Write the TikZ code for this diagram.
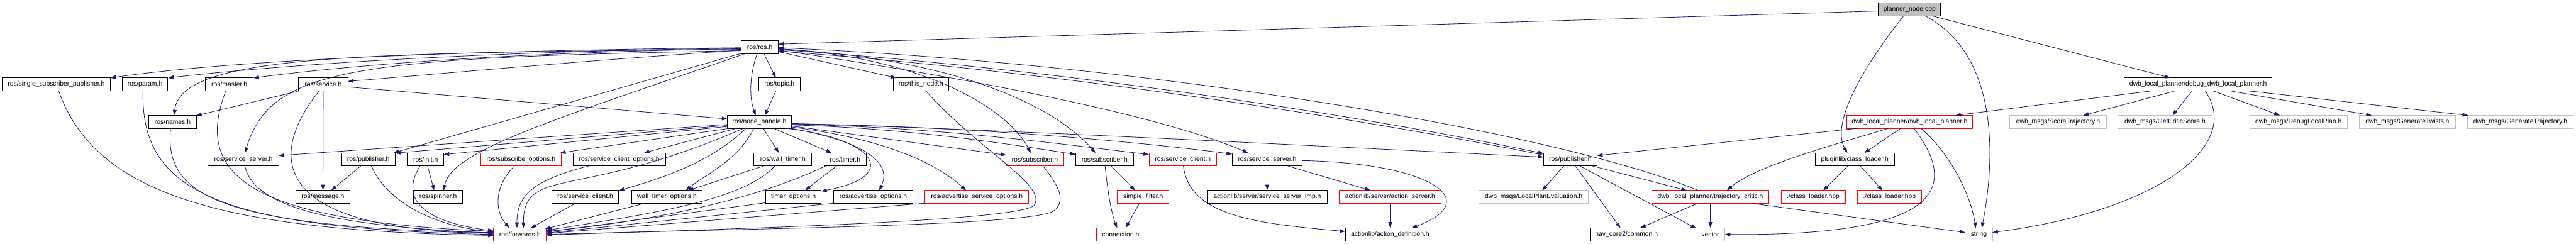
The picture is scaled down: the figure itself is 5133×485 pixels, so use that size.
\documentclass[tikz,border=0pt]{standalone}
\usepackage{fontspec}
\setmainfont{Liberation Sans}
\usetikzlibrary{arrows.meta}
\definecolor{edgec}{HTML}{191970}
\definecolor{grayb}{HTML}{BFBFBF}
\definecolor{redb}{HTML}{FF0000}
\begin{document}
\begin{tikzpicture}[x=1pt,y=-1pt,
  bk/.style={draw=black,line width=1.2pt,fill=white,minimum height=26pt,inner sep=0pt,inner xsep=4pt,font=\fontsize{13pt}{15pt}\selectfont},
  rd/.style={bk,draw=redb},
  gy/.style={bk,draw=grayb},
  e/.style={draw=edgec,line width=1.05pt,-{Triangle[length=11pt,width=7.5pt]}}]
\fill[white] (0,0) rectangle (5133,485);
\useasboundingbox (0,0) rectangle (5133,485);
% row 0-1
\node[bk,minimum width=124pt,fill=grayb] (pn) at (3805,18.7) {planner\_node.cpp};
\node[bk,minimum width=74pt] (ros) at (1514,93.5) {ros/ros.h};
% row 2
\node[bk,minimum width=215pt] (ssp) at (112,168.2) {ros/single\_subscriber\_publisher.h};
\node[bk,minimum width=91pt] (param) at (289,168.2) {ros/param.h};
\node[bk,minimum width=95pt] (master) at (457,168.2) {ros/master.h};
\node[bk,minimum width=98pt] (svc) at (644,168.2) {ros/service.h};
\node[bk,minimum width=83pt] (topic) at (1553,168.2) {ros/topic.h};
\node[bk,minimum width=110pt] (thisn) at (1835,168.2) {ros/this\_node.h};
\node[bk,minimum width=294pt] (dbg) at (4380,168.2) {dwb\_local\_planner/debug\_dwb\_local\_planner.h};
% row 3
\node[bk,minimum width=95pt] (names) at (344,243) {ros/names.h};
\node[bk,minimum width=127pt] (nh) at (1513,243) {ros/node\_handle.h};
\node[rd,minimum width=250pt] (dlp) at (3805,243) {dwb\_local\_planner/dwb\_local\_planner.h};
\node[gy,minimum width=192pt] (score) at (4101,243) {dwb\_msgs/ScoreTrajectory.h};
\node[gy,minimum width=187pt] (gcs) at (4314,243) {dwb\_msgs/GetCriticScore.h};
\node[gy,minimum width=194pt] (dlplan) at (4580,243) {dwb\_msgs/DebugLocalPlan.h};
\node[gy,minimum width=192pt] (gtw) at (4797,243) {dwb\_msgs/GenerateTwists.h};
\node[gy,minimum width=211pt] (gtr) at (5022,243) {dwb\_msgs/GenerateTrajectory.h};
% row 4
\node[bk,minimum width=141pt] (ssL) at (485,317.7) {ros/service\_server.h};
\node[bk,minimum width=107pt] (pubL) at (734,317.7) {ros/publisher.h};
\node[bk,minimum width=72pt] (init) at (848,317.7) {ros/init.h};
\node[rd,minimum width=160pt] (subo) at (1038,317.7) {ros/subscribe\_options.h};
\node[bk,minimum width=184pt] (sco) at (1234,317.7) {ros/service\_client\_options.h};
\node[bk,minimum width=115pt] (wt) at (1560,317.7) {ros/wall\_timer.h};
\node[bk,minimum width=84pt] (tm) at (1684,317.7) {ros/timer.h};
\node[rd,minimum width=115pt] (subR) at (2062,317.7) {ros/subscriber.h};
\node[bk,minimum width=115pt] (subB) at (2201,317.7) {ros/subscriber.h};
\node[rd,minimum width=135pt] (sclR) at (2357,317.7) {ros/service\_client.h};
\node[bk,minimum width=140pt] (ssR) at (2525,317.7) {ros/service\_server.h};
\node[bk,minimum width=107pt] (pubR) at (3129,317.7) {ros/publisher.h};
\node[bk,minimum width=158pt] (cl) at (3696,317.7) {pluginlib/class\_loader.h};
% row 5
\node[bk,minimum width=108pt] (msg) at (643.5,392.5) {ros/message.h};
\node[bk,minimum width=97pt] (spin) at (873,392.5) {ros/spinner.h};
\node[bk,minimum width=134pt] (sclL) at (1166,392.5) {ros/service\_client.h};
\node[bk,minimum width=141pt] (wto) at (1329,392.5) {wall\_timer\_options.h};
\node[bk,minimum width=111pt] (tmo) at (1581,392.5) {timer\_options.h};
\node[bk,minimum width=158pt] (advo) at (1740,392.5) {ros/advertise\_options.h};
\node[rd,minimum width=207pt] (advso) at (1946.5,392.5) {ros/advertise\_service\_options.h};
\node[rd,minimum width=103pt] (sf) at (2278,392.5) {simple\_filter.h};
\node[bk,minimum width=239pt] (ssimp) at (2525,392.5) {actionlib/server/service\_server\_imp.h};
\node[rd,minimum width=203pt] (acts) at (2770,392.5) {actionlib/server/action\_server.h};
\node[gy,minimum width=218pt] (lpe) at (3056,392.5) {dwb\_msgs/LocalPlanEvaluation.h};
\node[rd,minimum width=233pt] (tc) at (3408,392.5) {dwb\_local\_planner/trajectory\_critic.h};
\node[rd,minimum width=128pt] (clh1) at (3613,392.5) {./class\_loader.hpp};
\node[rd,minimum width=128pt] (clh2) at (3765,392.5) {./class\_loader.hpp};
% row 6
\node[rd,minimum width=105pt] (fwd) at (1036,467.2) {ros/forwards.h};
\node[rd,minimum width=96pt] (conn) at (2233,467.2) {connection.h};
\node[bk,minimum width=179pt] (adef) at (2770,467.2) {actionlib/action\_definition.h};
\node[bk,minimum width=146pt] (nav) at (3241,467.2) {nav\_core2/common.h};
\node[gy,minimum width=58pt] (vec) at (3408,467.2) {vector};
\node[gy,minimum width=54pt] (str) at (3943,467.2) {string};
% ---- edges from planner_node.cpp
\draw[e] ([shift={(-62,3.3)}]pn.center) -- ([shift={(37,-5.5)}]ros.center);
\draw[e] ([shift={(-12,13)}]pn.center) .. controls (3700,150) and (3650,250) .. ([shift={(-15,-13)}]cl.center);
\draw[e] ([shift={(31,13)}]pn.center) .. controls (3985,110) and (3975,320) .. ([shift={(6,-13)}]str.center);
\draw[e] ([shift={(45,13)}]pn.center) -- ([shift={(-55,-13)}]dbg.center);
% ---- ros/ros.h left
\draw[e] ([shift={(-37,1.5)}]ros.center) .. controls (1000,100) and (500,115) .. ([shift={(108,-13)}]ssp.center);
\draw[e] ([shift={(-37,2.5)}]ros.center) .. controls (1000,102) and (600,125) .. ([shift={(46,-13)}]param.center);
\draw[e] ([shift={(-37,3.5)}]ros.center) .. controls (1000,105) and (700,130) .. ([shift={(48,-13)}]master.center);
\draw[e] ([shift={(-37,6.5)}]ros.center) .. controls (1200,118) and (900,145) .. ([shift={(49,-6)}]svc.center);
\draw[e] ([shift={(-37,5)}]ros.center) .. controls (700,105) and (360,110) .. ([shift={(3,-13)}]names.center);
\draw[e] ([shift={(-37,7.5)}]ros.center) .. controls (700,115) and (540,135) .. ([shift={(3,-13)}]ssL.center);
\draw[e] ([shift={(-36,12.5)}]ros.center) -- ([shift={(50,-13)}]pubL.center);
\draw[e] ([shift={(-28,13)}]ros.center) .. controls (1100,240) and (900,300) .. ([shift={(11,-13)}]spin.center);
\draw[e] ([shift={(-5,13)}]ros.center) .. controls (1493,150) and (1493,195) .. ([shift={(-7,-13)}]nh.center);
\draw[e] ([shift={(8,13)}]ros.center) -- ([shift={(-7,-13)}]topic.center);
\draw[e] ([shift={(-7,13)}]topic.center) -- ([shift={(11,-13)}]nh.center);
% ---- ros/ros.h right
\draw[e] ([shift={(37,9.5)}]ros.center) -- ([shift={(-49,-13)}]thisn.center);
\draw[e] ([shift={(37,3.5)}]ros.center) .. controls (1850,115) and (2010,220) .. ([shift={(-8,-13)}]subR.center);
\draw[e] ([shift={(37,4.5)}]ros.center) .. controls (1900,115) and (2100,210) .. ([shift={(-18,-13)}]subB.center);
\draw[e] ([shift={(37,6.5)}]ros.center) .. controls (1900,150) and (2300,225) .. ([shift={(-38,-13)}]ssR.center);
\draw[e] ([shift={(37,5.5)}]ros.center) .. controls (2100,135) and (2700,228) .. ([shift={(-53,-11.7)}]pubR.center);
\draw[e] ([shift={(-53,-8.7)}]pubR.center) .. controls (2700,234) and (2100,142) .. ([shift={(37,8.5)}]ros.center);
\draw[e] ([shift={(-24,-13)}]tc.center) .. controls (3100,262) and (2300,128) .. ([shift={(37,1.5)}]ros.center);
% ---- ros/service.h
\draw[e] ([shift={(-48,13)}]svc.center) -- ([shift={(47,-12.5)}]names.center);
\draw[e] (svc.south) -- (msg.north);
\draw[e] ([shift={(49,5)}]svc.center) -- ([shift={(-63.5,-6)}]nh.center);
\draw[e] ([shift={(-8,13)}]svc.center) .. controls (540,300) and (520,460) .. ([shift={(-52.5,-4)}]fwd.center);
% ---- left nodes to forwards
\draw[e] ([shift={(5,13)}]ssp.center) .. controls (190,390) and (450,460) .. ([shift={(-52.5,2)}]fwd.center);
\draw[e] ([shift={(-4,13)}]param.center) .. controls (280,380) and (430,455) .. ([shift={(-52.5,0)}]fwd.center);
\draw[e] ([shift={(-4,13)}]names.center) .. controls (325,400) and (460,450) .. ([shift={(-52.5,-2)}]fwd.center);
\draw[e] ([shift={(-7,13)}]master.center) .. controls (380,360) and (520,440) .. ([shift={(-52.5,-6)}]fwd.center);
\draw[e] ([shift={(3,13)}]ssL.center) .. controls (505,410) and (650,450) .. ([shift={(-52.5,-3)}]fwd.center);
\draw[e] ([shift={(6,13)}]pubL.center) .. controls (770,400) and (860,450) .. ([shift={(-52.5,-5)}]fwd.center);
\draw[e] ([shift={(-11,13)}]init.center) .. controls (800,390) and (830,440) .. ([shift={(-52.5,-7)}]fwd.center);
\draw[e] ([shift={(-15,13)}]pubL.center) -- ([shift={(16.5,-13)}]msg.center);
\draw[e] ([shift={(4,13)}]init.center) -- ([shift={(-8,-13)}]spin.center);
% ---- node_handle left
\draw[e] ([shift={(-63.5,5)}]nh.center) -- ([shift={(70.5,-7.7)}]ssL.center);
\draw[e] ([shift={(-63.5,7)}]nh.center) -- ([shift={(53.5,-12.7)}]pubL.center);
\draw[e] ([shift={(-63.5,9)}]nh.center) -- ([shift={(36,-9.7)}]init.center);
\draw[e] ([shift={(-61,13)}]nh.center) -- ([shift={(78,-13)}]subo.center);
\draw[e] ([shift={(-46,13)}]nh.center) -- ([shift={(49,-13)}]sco.center);
\draw[e] ([shift={(-32,13)}]nh.center) .. controls (1150,400) and (1043,330) .. ([shift={(7,-13)}]fwd.center);
\draw[e] ([shift={(-27,13)}]nh.center) .. controls (1410,330) and (1300,360) .. ([shift={(67,-12.5)}]sclL.center);
\draw[e] ([shift={(-11,13)}]nh.center) .. controls (1470,320) and (1410,345) .. ([shift={(37,-13)}]wto.center);
% ---- node_handle down/right
\draw[e] ([shift={(8,13)}]nh.center) -- ([shift={(-8,-13)}]wt.center);
\draw[e] ([shift={(29,13)}]nh.center) -- ([shift={(-27,-13)}]tm.center);
\draw[e] ([shift={(55,13)}]nh.center) .. controls (1740,275) and (1800,350) .. ([shift={(55.5,-11.5)}]tmo.center);
\draw[e] ([shift={(59,12)}]nh.center) .. controls (1740,285) and (1775,330) .. ([shift={(12,-13)}]advo.center);
\draw[e] ([shift={(63,10)}]nh.center) .. controls (1750,275) and (1860,320) .. ([shift={(-21.5,-13)}]advso.center);
\draw[e] ([shift={(63.5,8)}]nh.center) -- ([shift={(-57,-8.7)}]subR.center);
\draw[e] ([shift={(63.5,6)}]nh.center) .. controls (1800,255) and (2000,285) .. ([shift={(-57.5,-9.7)}]subB.center);
\draw[e] ([shift={(63.5,5)}]nh.center) .. controls (1850,252) and (2100,285) .. ([shift={(-67.5,-9.7)}]sclR.center);
\draw[e] ([shift={(63.5,4)}]nh.center) .. controls (1900,250) and (2250,280) .. ([shift={(-70,-10.7)}]ssR.center);
\draw[e] ([shift={(63.5,3)}]nh.center) .. controls (2000,258) and (2600,290) .. ([shift={(-53.5,-4.7)}]pubR.center);
% ---- row 4/5 to forwards
\draw[e] ([shift={(-38,13)}]wt.center) -- ([shift={(42,-13)}]wto.center);
\draw[e] ([shift={(-17,13)}]tm.center) -- ([shift={(23,-13)}]tmo.center);
\draw[e] ([shift={(-13,13)}]subo.center) .. controls (985,370) and (985,420) .. ([shift={(-21,-13)}]fwd.center);
\draw[e] ([shift={(-61,13)}]sco.center) .. controls (1060,360) and (1030,390) .. ([shift={(-6,-13)}]fwd.center);
\draw[e] ([shift={(-20,13)}]sclL.center) -- ([shift={(22,-13)}]fwd.center);
\draw[e] ([shift={(-46,13)}]wto.center) -- ([shift={(50,-11)}]fwd.center);
\draw[e] ([shift={(-16,13)}]wt.center) .. controls (1480,400) and (1300,425) .. ([shift={(52.5,-8)}]fwd.center);
\draw[e] ([shift={(-39,13)}]tm.center) .. controls (1500,400) and (1300,440) .. ([shift={(52.5,-6)}]fwd.center);
\draw[e] ([shift={(-55,11.5)}]tmo.center) -- ([shift={(52.5,-5)}]fwd.center);
\draw[e] ([shift={(-79,12.5)}]advo.center) -- ([shift={(52.5,-3)}]fwd.center);
\draw[e] ([shift={(-103.5,12.5)}]advso.center) -- ([shift={(52.5,-2)}]fwd.center);
\draw[e] ([shift={(16,13)}]subR.center) .. controls (2110,370) and (2125,400) .. (2100,420) .. controls (2060,450) and (1500,455) .. ([shift={(52.5,0)}]fwd.center);
\draw[e] ([shift={(10,13)}]thisn.center) .. controls (1950,300) and (2090,370) .. (2060,410) .. controls (2020,440) and (1500,455) .. ([shift={(52.5,1)}]fwd.center);
% ---- subscriber / actionlib
\draw[e] ([shift={(13,13)}]subB.center) -- ([shift={(-16,-13)}]sf.center);
\draw[e] ([shift={(1,13)}]subB.center) .. controls (2208,390) and (2215,425) .. ([shift={(-7,-13)}]conn.center);
\draw[e] ([shift={(-8,13)}]sf.center) -- ([shift={(10,-13)}]conn.center);
\draw[e] (ssR.south) -- (ssimp.north);
\draw[e] ([shift={(41,13)}]ssR.center) -- ([shift={(-39,-13)}]acts.center);
\draw[e] ([shift={(70,2.3)}]ssR.center) .. controls (2850,325) and (2960,400) .. ([shift={(43,-13)}]adef.center);
\draw[e] (acts.south) -- (adef.north);
\draw[e] ([shift={(1,13)}]sclR.center) .. controls (2370,430) and (2500,445) .. ([shift={(-89.5,-6)}]adef.center);
% ---- dwb part
\draw[e] ([shift={(-13,13)}]pubR.center) -- ([shift={(17,-13)}]lpe.center);
\draw[e] ([shift={(10,13)}]pubR.center) -- ([shift={(-12,-13)}]nav.center);
\draw[e] ([shift={(19,13)}]pubR.center) -- ([shift={(-28,-12)}]vec.center);
\draw[e] ([shift={(44,13)}]pubR.center) -- ([shift={(-47,-13)}]tc.center);
\draw[e] ([shift={(-106,13)}]dlp.center) -- ([shift={(53.5,-7.7)}]pubR.center);
\draw[e] ([shift={(-43,13)}]dlp.center) .. controls (3650,290) and (3500,330) .. ([shift={(33,-13)}]tc.center);
\draw[e] ([shift={(-18,13)}]dlp.center) -- ([shift={(19,-13)}]cl.center);
\draw[e] ([shift={(9,13)}]dlp.center) .. controls (3900,370) and (3880,470) .. ([shift={(29,0)}]vec.center);
\draw[e] ([shift={(23,13)}]dlp.center) .. controls (3880,300) and (3925,380) .. ([shift={(-6,-13)}]str.center);
\draw[e] ([shift={(-14,13)}]cl.center) -- ([shift={(20,-13)}]clh1.center);
\draw[e] ([shift={(11,13)}]cl.center) -- ([shift={(-14,-13)}]clh2.center);
\draw[e] ([shift={(-26,13)}]tc.center) -- ([shift={(27,-13)}]nav.center);
\draw[e] (tc.south) -- (vec.north);
\draw[e] ([shift={(85,13)}]tc.center) -- ([shift={(-27,-4)}]str.center);
\draw[e] ([shift={(-93,13)}]dbg.center) -- ([shift={(91,-13)}]dlp.center);
\draw[e] ([shift={(-46,13)}]dbg.center) -- ([shift={(50,-13)}]score.center);
\draw[e] ([shift={(-12,13)}]dbg.center) -- ([shift={(15,-13)}]gcs.center);
\draw[e] ([shift={(30,13)}]dbg.center) -- ([shift={(-37,-13)}]dlplan.center);
\draw[e] ([shift={(64,13)}]dbg.center) -- ([shift={(-71,-13)}]gtw.center);
\draw[e] ([shift={(101,13)}]dbg.center) -- ([shift={(-104,-13)}]gtr.center);
\draw[e] ([shift={(14,13)}]dbg.center) .. controls (4470,290) and (4300,420) .. ([shift={(27,-4)}]str.center);
\end{tikzpicture}
\end{document}
